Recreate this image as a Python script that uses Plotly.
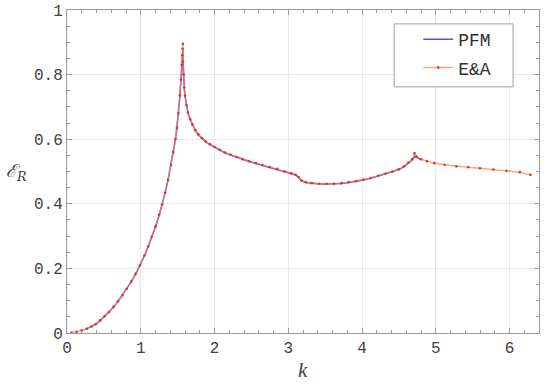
import plotly.graph_objects as go

# E&A samples (k, energy ratio)
ea_k = [0.06, 0.13, 0.20, 0.27, 0.33, 0.39, 0.45, 0.51, 0.57, 0.63, 0.69, 0.75, 0.81, 0.87, 0.93, 0.99,
        1.05, 1.10, 1.15, 1.20, 1.25, 1.29, 1.33, 1.37, 1.41, 1.44, 1.47, 1.49, 1.51, 1.53, 1.545, 1.555,
        1.562, 1.567, 1.571, 1.575, 1.58, 1.59, 1.60, 1.62, 1.64, 1.67, 1.70, 1.74, 1.78, 1.83, 1.88,
        1.94, 2.00, 2.07, 2.14, 2.22, 2.30, 2.38, 2.47, 2.56, 2.65, 2.75, 2.85, 2.95, 3.04, 3.10, 3.14,
        3.18, 3.24, 3.32, 3.42, 3.52, 3.62, 3.72, 3.82, 3.92, 4.02, 4.12, 4.22, 4.32, 4.41, 4.50, 4.57,
        4.63, 4.68, 4.712, 4.74, 4.80, 4.88, 4.98, 5.12, 5.28, 5.44, 5.60, 5.78, 5.96, 6.14, 6.283]
ea_er = [0.001, 0.004, 0.008, 0.013, 0.020, 0.028, 0.039, 0.052, 0.065, 0.081, 0.098, 0.117, 0.137, 0.159,
         0.183, 0.210, 0.240, 0.268, 0.298, 0.330, 0.366, 0.398, 0.434, 0.474, 0.520, 0.560, 0.600, 0.635,
         0.680, 0.735, 0.785, 0.830, 0.860, 0.880, 0.895, 0.840, 0.800, 0.760, 0.735, 0.705, 0.683, 0.662,
         0.645, 0.628, 0.615, 0.603, 0.593, 0.584, 0.576, 0.567, 0.559, 0.552, 0.545, 0.538, 0.532, 0.526,
         0.520, 0.514, 0.508, 0.500, 0.495, 0.490, 0.483, 0.472, 0.467, 0.464, 0.462, 0.462, 0.462, 0.464,
         0.467, 0.470, 0.475, 0.480, 0.487, 0.493, 0.499, 0.507, 0.516, 0.527, 0.538, 0.556, 0.546, 0.538,
         0.532, 0.526, 0.521, 0.516, 0.513, 0.510, 0.506, 0.502, 0.498, 0.490]

# PFM curve
pfm_k = [0.25, 0.33, 0.39, 0.45, 0.51, 0.57, 0.63, 0.69, 0.75, 0.81, 0.87, 0.93, 0.99, 1.05, 1.10, 1.15,
         1.20, 1.25, 1.29, 1.33, 1.37, 1.41, 1.44, 1.47, 1.49, 1.51, 1.53, 1.545, 1.555, 1.562, 1.567,
         1.571, 1.575, 1.58, 1.59, 1.60, 1.62, 1.64, 1.67, 1.70, 1.74, 1.78, 1.83, 1.88, 1.94, 2.00, 2.07,
         2.14, 2.22, 2.30, 2.38, 2.47, 2.56, 2.65, 2.75, 2.85, 2.95, 3.04, 3.10, 3.14, 3.18, 3.24, 3.32,
         3.42, 3.52, 3.62, 3.72, 3.82, 3.92, 4.02, 4.12, 4.22, 4.32, 4.41, 4.50, 4.57, 4.63, 4.68, 4.712,
         4.74, 4.80]
pfm_er = [0.011, 0.019, 0.027, 0.038, 0.051, 0.064, 0.080, 0.097, 0.116, 0.136, 0.158, 0.182, 0.209, 0.239,
          0.267, 0.297, 0.329, 0.365, 0.397, 0.433, 0.473, 0.519, 0.559, 0.599, 0.634, 0.679, 0.733, 0.782,
          0.824, 0.852, 0.870, 0.876, 0.835, 0.798, 0.759, 0.734, 0.704, 0.682, 0.661, 0.644, 0.627, 0.614,
          0.602, 0.592, 0.583, 0.575, 0.566, 0.558, 0.551, 0.544, 0.537, 0.531, 0.525, 0.519, 0.513, 0.507,
          0.499, 0.494, 0.489, 0.482, 0.471, 0.466, 0.463, 0.461, 0.461, 0.461, 0.463, 0.466, 0.469, 0.474,
          0.479, 0.486, 0.492, 0.498, 0.506, 0.515, 0.526, 0.536, 0.546, 0.544, 0.537]

tick_font = dict(family="Liberation Mono", size=16, color="#404040")

fig = go.Figure()
fig.add_trace(go.Scatter(x=pfm_k, y=pfm_er, mode="lines", name="PFM", legendgroup="a",
                         line=dict(color="rgb(80,80,245)", width=1.5)))
fig.add_trace(go.Scatter(x=ea_k, y=ea_er, mode="lines+markers", name="E&A", legendgroup="b",
                         line=dict(color="rgba(245,130,90,0.7)", width=1.5),
                         marker=dict(color="rgb(225,55,15)", size=2.6)))

axis_common = dict(showline=True, linecolor="#9a9a9a", linewidth=1, mirror="allticks",
                   ticks="inside", ticklen=5, tickcolor="#9a9a9a",
                   showgrid=True, gridcolor="#e9e9e9", gridwidth=1,
                   zeroline=False, tickfont=tick_font, automargin=False)

fig.update_xaxes(range=[0, 6.4], tickvals=[0, 1, 2, 3, 4, 5, 6],
                 minor=dict(dtick=0.2, tick0=0, ticks="inside", ticklen=3, tickcolor="#9a9a9a", showgrid=False),
                 **axis_common)
fig.update_yaxes(range=[0, 1], tickvals=[0, 0.2, 0.4, 0.6, 0.8, 1], ticktext=["0", "0.2", "0.4", "0.6", "0.8", "1"],
                 minor=dict(dtick=0.05, tick0=0, ticks="inside", ticklen=3, tickcolor="#9a9a9a", showgrid=False),
                 **axis_common)

# legend box
fig.add_shape(type="rect", xref="paper", yref="paper", x0=0.693, x1=0.945, y0=0.762, y1=0.957,
              fillcolor="white", line=dict(color="#a0a0a0", width=1), layer="above")

fig.add_annotation(text="<i>ℰ</i><sub><i>R</i></sub>", xref="paper", yref="paper", x=-0.108, y=0.5,
                   xanchor="center", yanchor="middle",
                   showarrow=False, font=dict(family="DejaVu Serif", size=18, color="#404040"))
fig.add_annotation(text="<i>k</i>", xref="paper", yref="paper", x=0.5, y=-0.115, yanchor="middle",
                   showarrow=False, font=dict(family="Liberation Serif", size=21, color="#404040"))

fig.update_layout(
    width=550, height=384,
    margin=dict(l=67, r=11, t=10, b=51),
    plot_bgcolor="white", paper_bgcolor="white",
    legend=dict(x=0.744, y=0.966, xanchor="left", yanchor="top", bgcolor="rgba(0,0,0,0)",
                borderwidth=0, traceorder="grouped", tracegroupgap=2,
                font=dict(family="Liberation Mono", size=18, color="#303030"), itemwidth=30),
)

fig.write_html("out.html", config={"displayModeBar": False},
               post_script="document.body.style.margin='0';")
